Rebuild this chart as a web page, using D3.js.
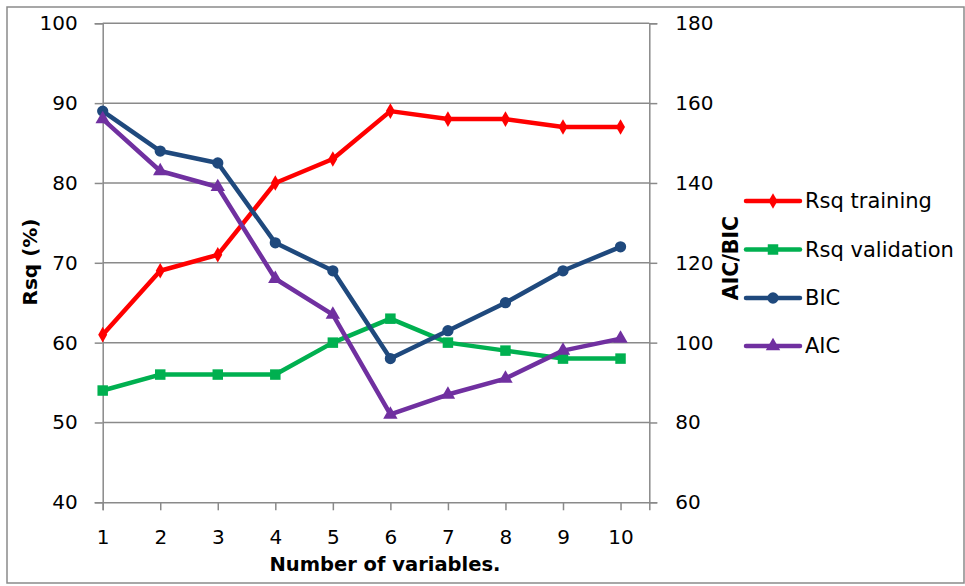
<!DOCTYPE html>
<html><head><meta charset="utf-8">
<script src="https://cdn.jsdelivr.net/npm/d3@7"></script>
<style>body{margin:0;background:#fff}svg{display:block;font-family:"DejaVu Sans",sans-serif}</style>
</head><body><svg id="c" width="965" height="586"></svg>
<script>
const variables = [1,2,3,4,5,6,7,8,9,10];
const rsqTraining = [61,69,71,80,83,89,88,88,87,87];
const rsqValidation = [54,56,56,56,60,63,60,59,58,58];
const bic = [158,148,145,125,118,96,103,110,118,124];
const aic = [156,143,139,116,107,82,87,91,98,101];
const leftTicks = [40,50,60,70,80,90,100];
const rightTicks = [60,80,100,120,140,160,180];

const svg = d3.select("#c");
const L=102.7, R=649.3, T=23.3, B=502.3;
const x = d3.scaleLinear().domain([1,10.5]).range([L,R]);
const yL = d3.scaleLinear().domain([40,100]).range([B,T]);
const yR = d3.scaleLinear().domain([60,180]).range([B,T]);
const grey="#8a8a8a";

svg.append("rect").attr("x",7).attr("y",7).attr("width",957).attr("height",576)
  .attr("fill","none").attr("stroke",grey).attr("stroke-width",1.5);

// gridlines
svg.append("g").selectAll("line").data(leftTicks.slice(1)).join("line")
  .attr("x1",L).attr("x2",R).attr("y1",d=>yL(d)).attr("y2",d=>yL(d))
  .attr("stroke",grey).attr("stroke-width",1.5);

// left axis
const ga = svg.append("g").attr("transform",`translate(${L},0)`)
  .call(d3.axisLeft(yL).tickValues(leftTicks).tickSize(8).tickPadding(17));
ga.select(".domain").attr("stroke",grey).attr("stroke-width",1.5);
ga.selectAll(".tick line").attr("stroke",grey).attr("stroke-width",1.5);
ga.selectAll("text").attr("font-size",20).attr("fill","#000").attr("font-family","DejaVu Sans");

// right axis
const gr = svg.append("g").attr("transform",`translate(${R},0)`)
  .call(d3.axisRight(yR).tickValues(rightTicks).tickSize(8).tickPadding(18));
gr.select(".domain").attr("stroke",grey).attr("stroke-width",1.5);
gr.selectAll(".tick line").attr("stroke",grey).attr("stroke-width",1.5);
gr.selectAll("text").attr("font-size",20).attr("fill","#000").attr("font-family","DejaVu Sans");

// bottom axis
const gb = svg.append("g").attr("transform",`translate(0,${B})`)
  .call(d3.axisBottom(x).tickValues(variables).tickFormat(d3.format("d")).tickSize(8).tickPadding(20));
gb.select(".domain").attr("stroke",grey).attr("stroke-width",1.5);
gb.selectAll(".tick line").attr("stroke",grey).attr("stroke-width",1.5);
gb.selectAll("text").attr("font-size",20).attr("fill","#000").attr("font-family","DejaVu Sans");

// titles
svg.append("text").attr("x",385).attr("y",571).attr("text-anchor","middle")
  .attr("font-weight","bold").attr("font-size",19.5).text("Number of variables.");
svg.append("text").attr("transform","translate(37,262) rotate(-90)").attr("text-anchor","middle")
  .attr("font-weight","bold").attr("font-size",20).text("Rsq (%)");
svg.append("text").attr("transform","translate(738,258) rotate(-90)").attr("text-anchor","middle")
  .attr("font-weight","bold").attr("font-size",20.5).text("AIC/BIC");

const series = [
  {name:"Rsq training", vals:rsqTraining, y:yL, color:"#FF0000", sym:d3.symbolDiamond, size:70},
  {name:"Rsq validation", vals:rsqValidation, y:yL, color:"#00B050", sym:d3.symbolSquare, size:110},
  {name:"BIC", vals:bic, y:yR, color:"#1F497D", sym:d3.symbolCircle, size:100},
  {name:"AIC", vals:aic, y:yR, color:"#7030A0", sym:d3.symbolTriangle, size:90}
];
const line = (s)=>d3.line().x((d,i)=>x(variables[i])).y(d=>s.y(d));
series.forEach(s=>{
  const g = svg.append("g");
  g.append("path").attr("d",line(s)(s.vals)).attr("fill","none")
    .attr("stroke",s.color).attr("stroke-width",4.5).attr("stroke-linejoin","round");
  g.selectAll("path.m").data(s.vals).join("path").attr("class","m")
    .attr("transform",(d,i)=>`translate(${x(variables[i])},${s.y(d)})`)
    .attr("d",d3.symbol().type(s.sym).size(s.size)).attr("fill",s.color);
});

// legend
const leg = svg.append("g");
const legY = [201,249.5,298,346];
series.forEach((s,i)=>{
  const g = leg.append("g").attr("transform",`translate(0,${legY[i]})`);
  g.append("line").attr("x1",746).attr("x2",800).attr("stroke",s.color).attr("stroke-width",4.5).attr("stroke-linecap","round");
  g.append("path").attr("transform","translate(773,0)").attr("d",d3.symbol().type(s.sym).size(s.size)).attr("fill",s.color);
  g.append("text").attr("x",805).attr("y",0).attr("dy","0.35em").attr("font-size",21).text(s.name);
});
</script></body></html>
